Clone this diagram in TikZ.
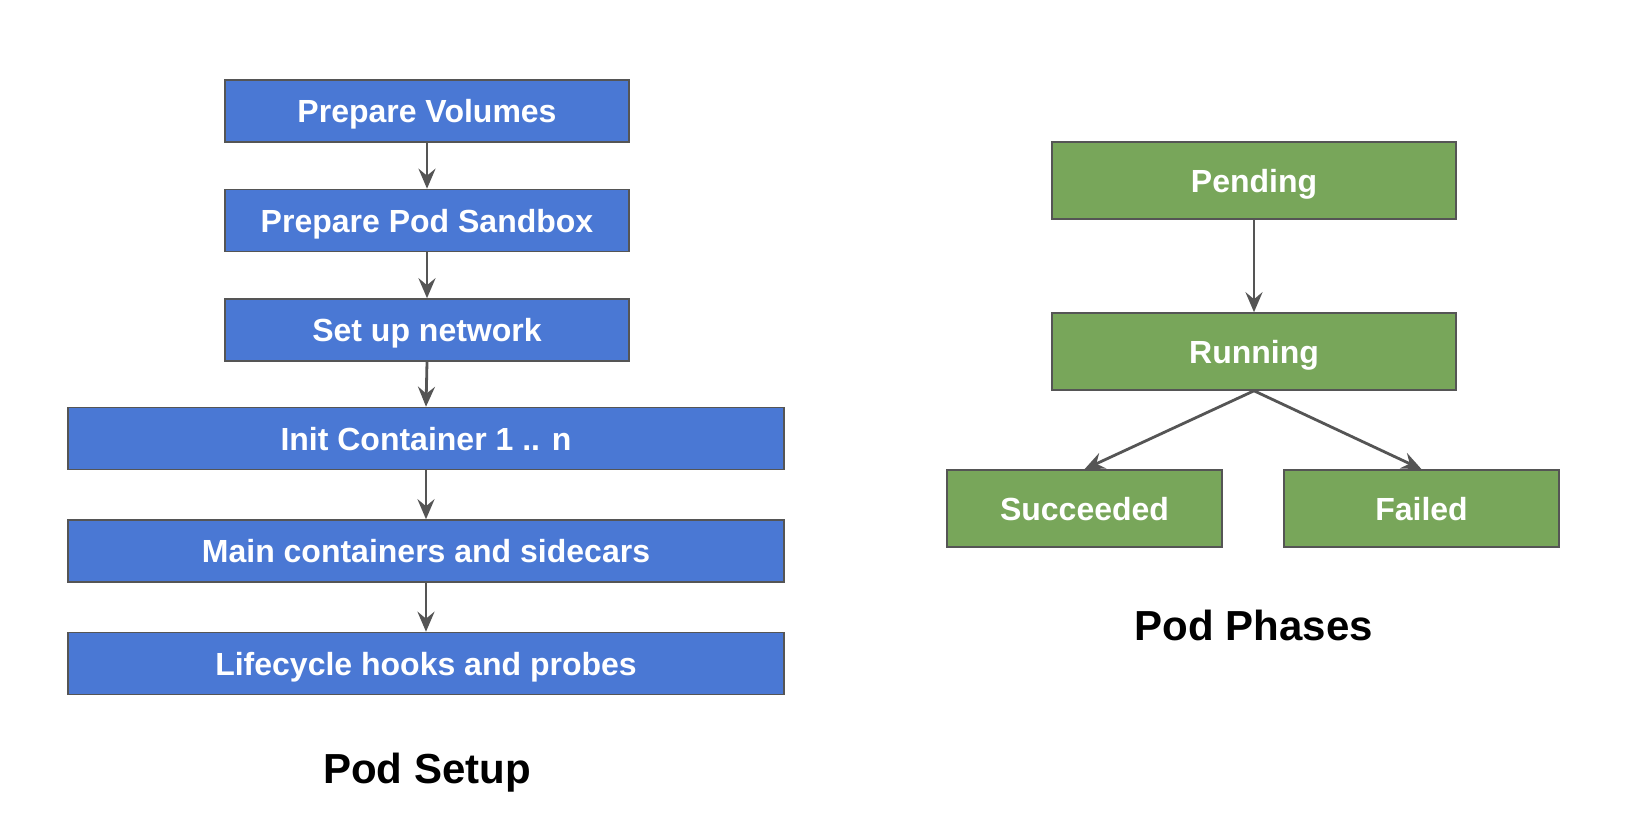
\documentclass[tikz,border=0pt]{standalone}
\usepackage{fontspec}
\setmainfont{Liberation Sans}
\usetikzlibrary{arrows.meta}
\definecolor{boxblue}{RGB}{74,120,212}
\definecolor{boxgreen}{RGB}{120,166,90}
\definecolor{edgegray}{RGB}{85,85,85}
\tikzset{
  base/.style={draw=edgegray, line width=1.6pt, inner sep=0pt, text=white,
    text height=23pt, text depth=0pt,
    font=\fontsize{32}{38}\selectfont\bfseries},
  bluebox/.style={base, fill=boxblue, minimum height=62},
  greenbox/.style={base, fill=boxgreen, minimum height=77},
  conn/.style={draw=edgegray, line width=2.8pt,
    -{Stealth[length=20pt,width=17pt,inset=7pt]}},
  title/.style={font=\fontsize{42}{50}\selectfont\bfseries, text=black,
    inner sep=0pt, text depth=0pt}
}
\begin{document}
\begin{tikzpicture}[x=1pt,y=-1pt]
\useasboundingbox[fill=white] (0,0) rectangle (1643,835);
% Pod Setup
\node[bluebox, minimum width=404] (pv) at (427,111) {Prepare Volumes};
\node[bluebox, minimum width=404] (ps) at (427,220.5) {Prepare Pod Sandbox};
\node[bluebox, minimum width=404] (sn) at (427,330) {Set up network};
\node[bluebox, minimum width=716] (ic) at (426,438.5) {Init Container 1 .. n};
\node[bluebox, minimum width=716] (mc) at (426,551) {Main containers and sidecars};
\node[bluebox, minimum width=716] (lh) at (426,663.5) {Lifecycle hooks and probes};
\node[title] (setup) at (427,768) {Pod Setup};
\draw[conn] (pv.south) -- (ps.north);
\draw[conn] (ps.south) -- (sn.north);
\draw[conn] (sn.south) -- (ic.north);
\draw[conn] (ic.south) -- (mc.north);
\draw[conn] (mc.south) -- (lh.north);
% Pod Phases
\node[greenbox, minimum width=404] (pend) at (1254,180.5) {Pending};
\node[greenbox, minimum width=404] (run) at (1254,351.5) {Running};
\node[greenbox, minimum width=275] (succ) at (1084.5,508.5) {Succeeded};
\node[greenbox, minimum width=275] (fail) at (1421.5,508.5) {Failed};
\node[title] (phases) at (1254,625) {Pod Phases};
\draw[conn] (pend.south) -- (run.north);
\draw[conn] (run.south) -- (succ.north);
\draw[conn] (run.south) -- (fail.north);
\end{tikzpicture}
\end{document}
